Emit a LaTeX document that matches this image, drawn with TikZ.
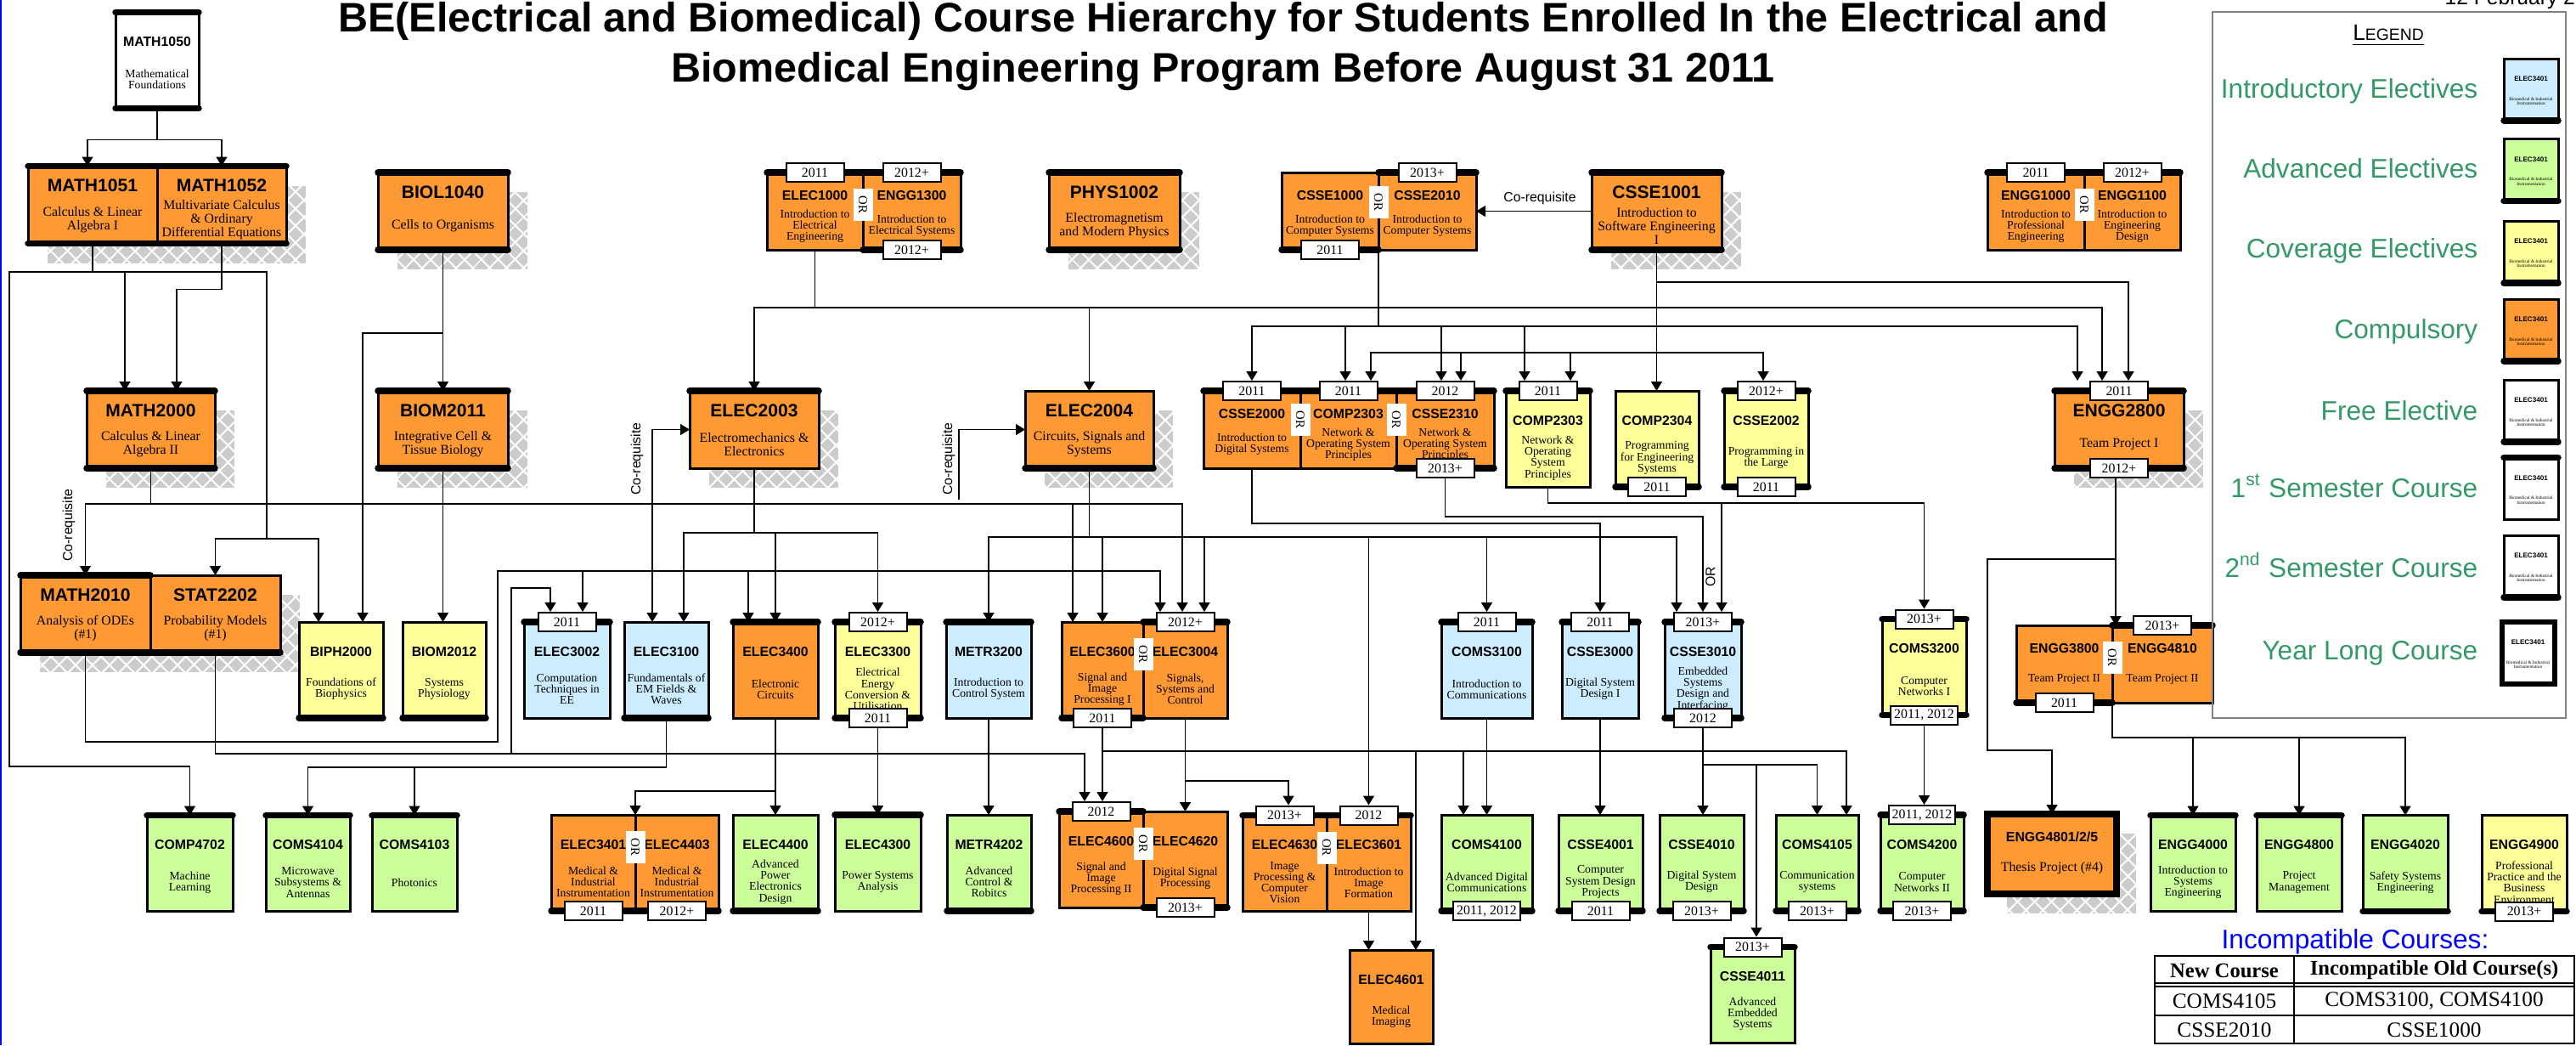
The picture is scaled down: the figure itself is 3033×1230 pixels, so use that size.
\documentclass[tikz,border=0pt]{standalone}
\usepackage{fontspec}
\setmainfont{Liberation Serif}
\setsansfont{Liberation Sans}
\usetikzlibrary{arrows.meta,patterns.meta}

\definecolor{corange}{RGB}{255,153,51}
\definecolor{cblue}{RGB}{204,236,255}
\definecolor{cgreen}{RGB}{204,255,153}
\definecolor{cyellow}{RGB}{255,255,153}
\definecolor{cshadow}{RGB}{204,204,204}
\definecolor{lgreen}{RGB}{51,153,102}

\newcommand\codef{\fontsize{4.5}{5}\selectfont\sffamily\bfseries}
\newcommand\bigcodef{\fontsize{6}{7}\selectfont\sffamily\bfseries}
\newcommand\descf{\fontsize{3.9}{3.75}\selectfont}
\newcommand\bigdescf{\fontsize{4.5}{4.6}\selectfont}
\newcommand\tagf{\fontsize{4.5}{5}\selectfont}
\newcommand\orf{\fontsize{4.2}{5}\selectfont}

\tikzset{
  course/.style={draw, line width=0.3mm, inner sep=0pt, outer sep=0pt},
  crossshadow/.style={
    preaction={fill=cshadow, transform canvas={shift={(2.3mm,-2.3mm)}}},
    preaction={pattern={Lines[angle=45,distance=4pt,line width=0.6pt]}, pattern color=white, transform canvas={shift={(2.3mm,-2.3mm)}}},
    preaction={pattern={Lines[angle=-45,distance=4pt,line width=0.6pt]}, pattern color=white, transform canvas={shift={(2.3mm,-2.3mm)}}}},
  shortbox/.style 2 args={minimum height=9.1mm,
    label={[anchor=center, yshift=-2.7mm, font=\codef]north:#1},
    label={[anchor=center, yshift=-6.3mm, align=center, font=\descf]north:{#2}}},
  bigbox/.style 2 args={minimum height=9.1mm, crossshadow,
    label={[anchor=center, yshift=-2.3mm, font=\bigcodef]north:#1},
    label={[anchor=center, yshift=-6.3mm, align=center, font=\bigdescf]north:{#2}}},
  tallbox/.style 2 args={minimum height=11.3mm,
    label={[anchor=center, yshift=-3.5mm, font=\codef]north:#1},
    label={[anchor=center, yshift=-7.9mm, align=center, font=\descf]north:{#2}}},
  yeartag/.style={draw, line width=0.2mm, fill=white, minimum width=6.8mm, minimum height=2.2mm, inner sep=0.4mm, font=\tagf},
  sembar/.style={line width=0.75mm, line cap=round},
  orlabel/.style={fill=white, rotate=-90, minimum width=3.8mm, minimum height=2.3mm, inner sep=0pt, font=\orf},
  coreq/.style={font=\fontsize{4.5}{5}\selectfont\sffamily, inner sep=0pt},
  lgdtext/.style={anchor=east, inner sep=0pt, text=lgreen, font=\fontsize{9}{10}\selectfont\sffamily},
  sample/.style={course, minimum width=6.4mm, minimum height=7.3mm,
    label={[anchor=center, yshift=-2.4mm, font=\fontsize{2.3}{2.5}\selectfont\sffamily\bfseries]north:ELEC3401},
    label={[anchor=center, yshift=-5mm, align=center, font=\fontsize{1.5}{1.6}\selectfont]north:{Biomedical \& Industrial\\Instrumentation}}},
  cell/.style={inner sep=0pt, font=\fontsize{7.2}{8}\selectfont}
}

\begin{document}
\begin{tikzpicture}[x=0.1mm, y=-0.1mm, line width=0.4pt, >={Triangle[length=1.1mm,width=1.3mm]}]
\useasboundingbox (0,0) rectangle (3033,1230);
\fill[blue] (0,0) rectangle (2.5,1230);

% title
\node[anchor=north, align=center, inner sep=0pt, font=\fontsize{13.8}{16.8}\selectfont\sffamily\bfseries] (title) at (1440,2)
  {BE(Electrical and Biomedical) Course Hierarchy for Students Enrolled In the Electrical and\\Biomedical Engineering Program Before August 31 2011};
\node[anchor=base west, inner sep=0pt, font=\fontsize{7}{8}\selectfont\sffamily] (date) at (2878,5) {12 February 2011};

% first year
\node[course, fill=white, tallbox={MATH1050}{Mathematical\\Foundations}, minimum width=9.8mm] (MATH1050) at (185,71) {};
\node[course, fill=corange, bigbox={MATH1051}{Calculus \& Linear\\Algebra I}, minimum width=15.2mm] (MATH1051) at (109,241) {};
\node[course, fill=corange, bigbox={MATH1052}{Multivariate Calculus\\\& Ordinary\\Differential Equations}, minimum width=15.2mm] (MATH1052) at (261,241) {};
\node[course, fill=corange, bigbox={BIOL1040}{Cells to Organisms}, minimum width=15.3mm] (BIOL1040) at (521.5,248.5) {};
\node[course, fill=corange, shortbox={ELEC1000}{Introduction to\\Electrical\\Engineering}, minimum width=11.3mm] (ELEC1000) at (959.5,248.5) {};
\node[course, fill=corange, shortbox={ENGG1300}{Introduction to\\Electrical Systems}, minimum width=11.5mm] (ENGG1300) at (1073.5,248.5) {};
\node[course, fill=corange, bigbox={PHYS1002}{Electromagnetism\\and Modern Physics}, minimum width=15.4mm] (PHYS1002) at (1312,248.5) {};
\node[course, fill=corange, shortbox={CSSE1000}{Introduction to\\Computer Systems}, minimum width=11.4mm] (CSSE1000) at (1566,248.5) {};
\node[course, fill=corange, shortbox={CSSE2010}{Introduction to\\Computer Systems}, minimum width=11.5mm] (CSSE2010) at (1680.5,248.5) {};
\node[course, fill=corange, bigbox={CSSE1001}{Introduction to\\Software Engineering\\I}, minimum width=15.3mm] (CSSE1001) at (1950.5,248.5) {};
\node[course, fill=corange, shortbox={ENGG1000}{Introduction to\\Professional\\Engineering}, minimum width=11.4mm] (ENGG1000) at (2397,248.5) {};
\node[course, fill=corange, shortbox={ENGG1100}{Introduction to\\Engineering\\Design}, minimum width=11.3mm] (ENGG1100) at (2510.5,248.5) {};

% second year
\node[course, fill=corange, bigbox={MATH2000}{Calculus \& Linear\\Algebra II}, minimum width=15.1mm] (MATH2000) at (177.5,505.5) {};
\node[course, fill=corange, bigbox={BIOM2011}{Integrative Cell \&\\Tissue Biology}, minimum width=15.3mm] (BIOM2011) at (521.5,505.5) {};
\node[course, fill=corange, bigbox={ELEC2003}{Electromechanics \&\\Electronics}, minimum width=15.2mm] (ELEC2003) at (888,505.5) {};
\node[course, fill=corange, bigbox={ELEC2004}{Circuits, Signals and\\Systems}, minimum width=15.1mm] (ELEC2004) at (1282.5,505.5) {};
\node[course, fill=corange, shortbox={CSSE2000}{Introduction to\\Digital Systems}, minimum width=11.4mm] (CSSE2000) at (1474,505.5) {};
\node[course, fill=corange, shortbox={COMP2303}{Network \&\\Operating System\\Principles}, minimum width=11.3mm] (COMP2303) at (1587.5,505.5) {};
\node[course, fill=corange, shortbox={CSSE2310}{Network \&\\Operating System\\Principles}, minimum width=11.5mm] (CSSE2310) at (1701.5,505.5) {};
\node[course, fill=cyellow, tallbox={COMP2303}{Network \&\\Operating\\System\\Principles}, minimum width=9.9mm] (COMP2303b) at (1822.5,516.5) {};
\node[course, fill=cyellow, tallbox={COMP2304}{Programming\\for Engineering\\Systems}, minimum width=9.8mm] (COMP2304) at (1951,516.5) {};
\node[course, fill=cyellow, tallbox={CSSE2002}{Programming in\\the Large}, minimum width=9.9mm] (CSSE2002) at (2079.5,516.5) {};
\node[course, fill=corange, bigbox={ENGG2800}{Team Project I}, minimum width=15.2mm] (ENGG2800) at (2495,505.5) {};

% third year
\node[course, fill=corange, bigbox={MATH2010}{Analysis of ODEs\\(\#1)}, minimum width=15.3mm] (MATH2010) at (100.5,722.5) {};
\node[course, fill=corange, bigbox={STAT2202}{Probability Models\\(\#1)}, minimum width=15.3mm] (STAT2202) at (253.5,722.5) {};
\node[course, fill=cyellow, tallbox={BIPH2000}{Foundations of\\Biophysics}, minimum width=9.9mm] (BIPH2000) at (401.5,788.5) {};
\node[course, fill=cyellow, tallbox={BIOM2012}{Systems\\Physiology}, minimum width=9.8mm] (BIOM2012) at (523,788.5) {};
\node[course, fill=cblue, tallbox={ELEC3002}{Computation\\Techniques in\\EE}, minimum width=10.1mm] (ELEC3002) at (667.5,788.5) {};
\node[course, fill=cblue, tallbox={ELEC3100}{Fundamentals of\\EM Fields \&\\Waves}, minimum width=9.9mm] (ELEC3100) at (784.5,788.5) {};
\node[course, fill=corange, tallbox={ELEC3400}{Electronic\\Circuits}, minimum width=10mm] (ELEC3400) at (913,788.5) {};
\node[course, fill=cyellow, tallbox={ELEC3300}{Electrical\\Energy\\Conversion \&\\Utilisation}, minimum width=10.1mm] (ELEC3300) at (1033.5,788.5) {};
\node[course, fill=cblue, tallbox={METR3200}{Introduction to\\Control System}, minimum width=10mm] (METR3200) at (1164,788.5) {};
\node[course, fill=corange, tallbox={ELEC3600}{Signal and\\Image\\Processing I}, minimum width=9.6mm] (ELEC3600) at (1298,788.5) {};
\node[course, fill=corange, tallbox={ELEC3004}{Signals,\\Systems and\\Control}, minimum width=9.9mm] (ELEC3004) at (1395.5,788.5) {};
\node[course, fill=cblue, tallbox={COMS3100}{Introduction to\\Communications}, minimum width=10.7mm] (COMS3100) at (1750.5,788.5) {};
\node[course, fill=cblue, tallbox={CSSE3000}{Digital System\\Design I}, minimum width=9mm] (CSSE3000) at (1884,788.5) {};
\node[course, fill=cblue, tallbox={CSSE3010}{Embedded\\Systems\\Design and\\Interfacing}, minimum width=9mm] (CSSE3010) at (2005,788.5) {};
\node[course, fill=cyellow, tallbox={COMS3200}{Computer\\Networks I}, minimum width=9.9mm] (COMS3200) at (2265.5,785) {};
\node[course, fill=corange, shortbox={ENGG3800}{Team Project II}, minimum width=11.3mm] (ENGG3800) at (2430.5,781.5) {};
\node[course, fill=corange, shortbox={ENGG4810}{Team Project II}, minimum width=11.8mm] (ENGG4810) at (2546,781.5) {};

% fourth year
\node[course, fill=cgreen, tallbox={COMP4702}{Machine\\Learning}, minimum width=10.1mm] (COMP4702) at (223.5,1016) {};
\node[course, fill=cgreen, tallbox={COMS4104}{Microwave\\Subsystems \&\\Antennas}, minimum width=9.9mm] (COMS4104) at (362.5,1016) {};
\node[course, fill=cgreen, tallbox={COMS4103}{Photonics}, minimum width=10mm] (COMS4103) at (488,1016) {};
\node[course, fill=corange, tallbox={ELEC3401}{Medical \&\\Industrial\\Instrumentation}, minimum width=9.9mm] (ELEC3401) at (698.5,1015.5) {};
\node[course, fill=corange, tallbox={ELEC4403}{Medical \&\\Industrial\\Instrumentation}, minimum width=9.8mm] (ELEC4403) at (797,1015.5) {};
\node[course, fill=cgreen, tallbox={ELEC4400}{Advanced\\Power\\Electronics\\Design}, minimum width=10mm] (ELEC4400) at (913,1015.5) {};
\node[course, fill=cgreen, tallbox={ELEC4300}{Power Systems\\Analysis}, minimum width=10.1mm] (ELEC4300) at (1033.5,1015.5) {};
\node[course, fill=cgreen, tallbox={METR4202}{Advanced\\Control \&\\Robitcs}, minimum width=9.9mm] (METR4202) at (1164.5,1015.5) {};
\node[course, fill=corange, tallbox={ELEC4600}{Signal and\\Image\\Processing II}, minimum width=9.9mm] (ELEC4600) at (1296.5,1011.5) {};
\node[course, fill=corange, tallbox={ELEC4620}{Digital Signal\\Processing}, minimum width=9.9mm] (ELEC4620) at (1395.5,1011.5) {};
\node[course, fill=corange, tallbox={ELEC4630}{Image\\Processing \&\\Computer\\Vision}, minimum width=9.9mm] (ELEC4630) at (1512.5,1016) {};
\node[course, fill=corange, tallbox={ELEC3601}{Introduction to\\Image\\Formation}, minimum width=9.9mm] (ELEC3601) at (1611.5,1016) {};
\node[course, fill=corange, tallbox={ELEC4601}{Medical\\Imaging}, minimum width=9.8mm, minimum height=11mm] (ELEC4601) at (1638,1173) {};
\node[course, fill=cgreen, tallbox={COMS4100}{Advanced Digital\\Communications}, minimum width=10.7mm] (COMS4100) at (1750.5,1015.5) {};
\node[course, fill=cgreen, tallbox={CSSE4001}{Computer\\System Design\\Projects}, minimum width=9.9mm] (CSSE4001) at (1884.5,1015.5) {};
\node[course, fill=cgreen, tallbox={CSSE4010}{Digital System\\Design}, minimum width=9.9mm] (CSSE4010) at (2003.5,1015.5) {};
\node[course, fill=cgreen, tallbox={COMS4105}{Communication\\systems}, minimum width=9.7mm] (COMS4105) at (2139.5,1015.5) {};
\node[course, fill=cgreen, tallbox={COMS4200}{Computer\\Networks II}, minimum width=9.8mm] (COMS4200) at (2263,1015.5) {};
\node[course, fill=cgreen, tallbox={CSSE4011}{Advanced\\Embedded\\Systems}, minimum width=9.9mm] (CSSE4011) at (2063.5,1171) {};
\node[course, fill=corange, crossshadow, line width=0.75mm, minimum width=15.2mm, minimum height=9.4mm,
  label={[anchor=center, yshift=-2.7mm, font=\codef]north:ENGG4801/2/5},
  label={[anchor=center, yshift=-6.4mm, font=\bigdescf]north:Thesis Project (\#4)}] (ENGG4801) at (2416,1005) {};
\node[course, fill=cgreen, tallbox={ENGG4000}{Introduction to\\Systems\\Engineering}, minimum width=10mm] (ENGG4000) at (2582,1016) {};
\node[course, fill=cgreen, tallbox={ENGG4800}{Project\\Management}, minimum width=10mm] (ENGG4800) at (2707,1016) {};
\node[course, fill=cgreen, tallbox={ENGG4020}{Safety Systems\\Engineering}, minimum width=10mm] (ENGG4020) at (2832,1016) {};
\node[course, fill=cyellow, tallbox={ENGG4900}{Professional\\Practice and the\\Business\\Environment}, minimum width=10mm] (ENGG4900) at (2972,1016) {};

% semester bars
\draw[sembar] (MATH1050.north west) -- (MATH1050.north east);
\draw[sembar] (MATH1050.south west) -- (MATH1050.south east);
\draw[sembar] (MATH1051.north west) -- (MATH1052.north east);
\draw[sembar] (MATH1051.south west) -- (MATH1052.south east);
\draw[sembar] (BIOL1040.north west) -- (BIOL1040.north east);
\draw[sembar] (BIOL1040.south west) -- (BIOL1040.south east);
\draw[sembar] (ELEC1000.north west) -- (ENGG1300.north east);
\draw[sembar] (ENGG1300.south west) -- (ENGG1300.south east);
\draw[sembar] (PHYS1002.north west) -- (PHYS1002.north east);
\draw[sembar] (PHYS1002.south west) -- (PHYS1002.south east);
\draw[sembar] (CSSE1000.south west) -- (CSSE1000.south east);
\draw[sembar] (CSSE2010.north west) -- (CSSE2010.north east);
\draw[sembar] (CSSE1001.north west) -- (CSSE1001.north east);
\draw[sembar] (CSSE1001.south west) -- (CSSE1001.south east);
\draw[sembar] (ENGG1000.north west) -- (ENGG1100.north east);
\draw[sembar] (MATH2000.north west) -- (MATH2000.north east);
\draw[sembar] (MATH2000.south west) -- (MATH2000.south east);
\draw[sembar] (BIOM2011.north west) -- (BIOM2011.north east);
\draw[sembar] (BIOM2011.south west) -- (BIOM2011.south east);
\draw[sembar] (ELEC2003.north west) -- (ELEC2003.north east);
\draw[sembar] (ELEC2004.south west) -- (ELEC2004.south east);
\draw[sembar] (CSSE2000.north west) -- (CSSE2310.north east);
\draw[sembar] (CSSE2310.south west) -- (CSSE2310.south east);
\draw[sembar] (COMP2303b.north west) -- (COMP2303b.north east);
\draw[sembar] (COMP2304.south west) -- (COMP2304.south east);
\draw[sembar] (CSSE2002.north west) -- (CSSE2002.north east);
\draw[sembar] (CSSE2002.south west) -- (CSSE2002.south east);
\draw[sembar] (ENGG2800.north west) -- (ENGG2800.north east);
\draw[sembar] (ENGG2800.south west) -- (ENGG2800.south east);
\draw[sembar] (MATH2010.north west) -- (MATH2010.north east);
\draw[sembar] (MATH2010.south west) -- (STAT2202.south east);
\draw[sembar] (BIPH2000.south west) -- (BIPH2000.south east);
\draw[sembar] (BIOM2012.south west) -- (BIOM2012.south east);
\draw[sembar] (ELEC3002.north west) -- (ELEC3002.north east);
\draw[sembar] (ELEC3100.south west) -- (ELEC3100.south east);
\draw[sembar] (ELEC3400.north west) -- (ELEC3400.north east);
\draw[sembar] (ELEC3300.north west) -- (ELEC3300.north east);
\draw[sembar] (ELEC3300.south west) -- (ELEC3300.south east);
\draw[sembar] (METR3200.north west) -- (METR3200.north east);
\draw[sembar] (ELEC3600.south west) -- (ELEC3600.south east);
\draw[sembar] (ELEC3004.north west) -- (ELEC3004.north east);
\draw[sembar] (COMS3100.north west) -- (COMS3100.north east);
\draw[sembar] (CSSE3000.north west) -- (CSSE3000.north east);
\draw[sembar] (CSSE3010.north west) -- (CSSE3010.north east);
\draw[sembar] (CSSE3010.south west) -- (CSSE3010.south east);
\draw[sembar] (COMS3200.north west) -- (COMS3200.north east);
\draw[sembar] (COMS3200.south west) -- (COMS3200.south east);
\draw[sembar] (ENGG3800.south west) -- (ENGG3800.south east);
\draw[sembar] (ENGG4810.north west) -- (ENGG4810.north east);
\draw[sembar] (COMP4702.north west) -- (COMP4702.north east);
\draw[sembar] (COMS4104.north west) -- (COMS4104.north east);
\draw[sembar] (COMS4103.north west) -- (COMS4103.north east);
\draw[sembar] (ELEC3401.south west) -- (ELEC4403.south east);
\draw[sembar] (ELEC4400.south west) -- (ELEC4400.south east);
\draw[sembar] (ELEC4300.north west) -- (ELEC4300.north east);
\draw[sembar] (METR4202.south west) -- (METR4202.south east);
\draw[sembar] (ELEC4600.north west) -- (ELEC4600.north east);
\draw[sembar] (ELEC4620.south west) -- (ELEC4620.south east);
\draw[sembar] (ELEC4630.north west) -- (ELEC3601.north east);
\draw[sembar] (COMS4100.south west) -- (COMS4100.south east);
\draw[sembar] (CSSE4001.south west) -- (CSSE4001.south east);
\draw[sembar] (CSSE4010.south west) -- (CSSE4010.south east);
\draw[sembar] (COMS4105.south west) -- (COMS4105.south east);
\draw[sembar] (COMS4200.north west) -- (COMS4200.north east);
\draw[sembar] (COMS4200.south west) -- (COMS4200.south east);
\draw[sembar] (CSSE4011.north west) -- (CSSE4011.north east);
\draw[sembar] (ENGG4000.north west) -- (ENGG4000.north east);
\draw[sembar] (ENGG4800.north west) -- (ENGG4800.north east);
\draw[sembar] (ENGG4020.south west) -- (ENGG4020.south east);
\draw[sembar] (ENGG4900.south west) -- (ENGG4900.south east);

% year tags
\node[yeartag] (ELEC1000T) at (ELEC1000.north) {2011};
\node[yeartag] (ENGG1300T) at (ENGG1300.north) {2012+};
\node[yeartag] (ENGG1300B) at (ENGG1300.south) {2012+};
\node[yeartag] (CSSE1000B) at (CSSE1000.south) {2011};
\node[yeartag] (CSSE2010T) at (CSSE2010.north) {2013+};
\node[yeartag] (ENGG1000T) at (ENGG1000.north) {2011};
\node[yeartag] (ENGG1100T) at (ENGG1100.north) {2012+};
\node[yeartag] (CSSE2000T) at (CSSE2000.north) {2011};
\node[yeartag] (COMP2303T) at (COMP2303.north) {2011};
\node[yeartag] (CSSE2310T) at (CSSE2310.north) {2012};
\node[yeartag] (CSSE2310B) at (CSSE2310.south) {2013+};
\node[yeartag] (COMP2303bT) at (COMP2303b.north) {2011};
\node[yeartag] (COMP2304B) at (COMP2304.south) {2011};
\node[yeartag] (CSSE2002T) at (CSSE2002.north) {2012+};
\node[yeartag] (CSSE2002B) at (CSSE2002.south) {2011};
\node[yeartag] (ENGG2800T) at (ENGG2800.north) {2011};
\node[yeartag] (ENGG2800B) at (ENGG2800.south) {2012+};
\node[yeartag] (ELEC3002T) at (ELEC3002.north) {2011};
\node[yeartag] (ELEC3300T) at (ELEC3300.north) {2012+};
\node[yeartag] (ELEC3300B) at (ELEC3300.south) {2011};
\node[yeartag] (ELEC3600B) at (ELEC3600.south) {2011};
\node[yeartag] (ELEC3004T) at (ELEC3004.north) {2012+};
\node[yeartag] (COMS3100T) at (COMS3100.north) {2011};
\node[yeartag] (CSSE3000T) at (CSSE3000.north) {2011};
\node[yeartag] (CSSE3010T) at (CSSE3010.north) {2013+};
\node[yeartag] (CSSE3010B) at (CSSE3010.south) {2012};
\node[yeartag] (COMS3200T) at (COMS3200.north) {2013+};
\node[yeartag] (COMS3200B) at (COMS3200.south) {2011, 2012};
\node[yeartag] (ENGG3800B) at (ENGG3800.south) {2011};
\node[yeartag] (ENGG4810T) at (ENGG4810.north) {2013+};
\node[yeartag] (ELEC3401B) at (ELEC3401.south) {2011};
\node[yeartag] (ELEC4403B) at (ELEC4403.south) {2012+};
\node[yeartag] (ELEC4600T) at (ELEC4600.north) {2012};
\node[yeartag] (ELEC4620B) at (ELEC4620.south) {2013+};
\node[yeartag] (ELEC4630T) at (ELEC4630.north) {2013+};
\node[yeartag] (ELEC3601T) at (ELEC3601.north) {2012};
\node[yeartag] (COMS4100B) at (COMS4100.south) {2011, 2012};
\node[yeartag] (CSSE4001B) at (CSSE4001.south) {2011};
\node[yeartag] (CSSE4010B) at (CSSE4010.south) {2013+};
\node[yeartag] (COMS4105B) at (COMS4105.south) {2013+};
\node[yeartag] (COMS4200T) at (COMS4200.north) {2011, 2012};
\node[yeartag] (COMS4200B) at (COMS4200.south) {2013+};
\node[yeartag] (CSSE4011T) at (CSSE4011.north) {2013+};
\node[yeartag] (ENGG4900B) at (ENGG4900.south) {2013+};

% OR labels
\node[orlabel] (or1) at ([yshift=-3.8mm]ELEC1000.north east) {OR};
\node[orlabel] (or2) at ([yshift=-3.5mm]CSSE1000.north east) {OR};
\node[orlabel] (or3) at ([yshift=-3.8mm]ENGG1000.north east) {OR};
\node[orlabel] (or4) at ([yshift=-3.4mm]CSSE2000.north east) {OR};
\node[orlabel] (or5) at ([yshift=-3.4mm]COMP2303.north east) {OR};
\node[orlabel] (or6) at ([yshift=-3.8mm]ELEC3600.north east) {OR};
\node[orlabel] (or7) at ([yshift=-3.8mm]ENGG3800.north east) {OR};
\node[orlabel] (or8) at ([yshift=-3.8mm]ELEC3401.north east) {OR};
\node[orlabel] (or9) at ([yshift=-3.8mm]ELEC4600.north east) {OR};
\node[orlabel] (or10) at ([yshift=-3.8mm]ELEC4630.north east) {OR};

% prerequisites
\draw[->] (MATH1050.south) -- ++(0,37) -| ([xshift=-0.6mm]MATH1051.north);
\draw[->] (MATH1050.south) -- ++(0,37) -| (MATH1052.north);
\draw[->] (MATH1051.south) -- ++(0,33) -| ([xshift=-3.05mm]MATH2000.north);
\draw[->] (MATH1051.south) |- (314,320) -- (314,634) -| (STAT2202.north);
\draw[->] (MATH1051.south) |- (314,320) -- (314,634) -| ([xshift=-2.65mm]BIPH2000.north);
\draw[->] (MATH1051.south) |- (11,320) -- (11,902) -| (COMP4702.north);
\draw[->] (MATH1052.south) -- ++(0,54) -| ([xshift=3.05mm]MATH2000.north);
\draw[->] (BIOL1040.south) -- (BIOL1040.south |- BIOM2011.north);
\draw[->] (BIOL1040.south) -- ++(0,98) -| ([xshift=2.55mm]BIPH2000.north);
\draw[->] (MATH2000.south) -- ++(0,42) -| (MATH2010.north);
\draw[->] (MATH2000.south) -- ++(0,42) -| ([xshift=-3.5mm]ELEC3600.north);
\draw[->] (MATH2000.south) -- ++(0,42) -| ([xshift=-0.35mm]ELEC3004T.north);
\draw[->] (BIOM2011.south) -- (BIOM2011.south |- BIOM2012.north);
\draw[->] (MATH2010.south) -- ++(0,105) -| (586,672) -| ([xshift=1.85mm]ELEC3002T.north);
\draw[->] (MATH2010.south) -- ++(0,105) -| (586,672) -| ([xshift=-3.2mm]ELEC3400.north);
\draw[->] (MATH2010.south) -- ++(0,105) -| (586,672) -| ([xshift=-2.95mm]ELEC3004T.north);
\draw[->] (STAT2202.south) -- ++(0,119) -| (602,692) -| ([xshift=-1.95mm]ELEC3002T.north);
\draw[->] (STAT2202.south) -- ++(0,119) -| ([xshift=-1.95mm]ELEC4600T.north);
\draw[->] (ELEC1000.south) -- ++(0,68) -| (ELEC2003.north);
\draw[->] (ELEC1000.south) -- ++(0,68) -| (ELEC2004.north);
\draw[->] (ELEC1000.south) -- ++(0,68) -| ([xshift=-2mm]ENGG2800T.north);
\draw[->] (ELEC2003.south) -- ++(0,76) -| ([xshift=2.05mm]ELEC3100.north);
\draw[->] (ELEC2003.south) -- ++(0,76) -| (ELEC3400.north);
\draw[->] (ELEC2003.south) -- ++(0,76) -| (ELEC3300T.north);
\draw[<->] ([xshift=-1.65mm]ELEC3100.north) |- (ELEC2003.west);
\coordinate (cq) at (1129,588);
\draw[->] (cq) |- (ELEC2004.west);
\draw[->] (ELEC2004.south) -- ++(0,81) -| (METR3200.north);
\draw[->] (ELEC2004.south) -- ++(0,81) -| (ELEC3600.north);
\draw[->] (ELEC2004.south) -- ++(0,81) -| ([xshift=2.25mm]ELEC3004T.north);
\draw[->] (ELEC2004.south) -- ++(0,81) -| (ELEC3601T.north);
\draw[->] (ELEC2004.south) -- ++(0,81) -| (COMS3100T.north);
\draw[->] (ELEC2004.south) -- ++(0,81) -| ([xshift=-3.1mm]CSSE3010T.north);
\draw[->] (CSSE1000.south east) -- ++(0,90) -| (CSSE2000T.north);
\draw[->] (CSSE1000.south east) -- ++(0,90) -| ([xshift=-0.35mm]COMP2303T.north);
\draw[->] (CSSE1000.south east) -- ++(0,90) -| ([xshift=-0.45mm]CSSE2310T.north);
\draw[->] (CSSE1000.south east) -- ++(0,90) -| ([xshift=-2.75mm]COMP2303bT.north);
\draw[->] (CSSE1000.south east) -- ++(0,90) -| ([xshift=-4.9mm]ENGG2800T.north);
\draw[->] (CSSE1001.south) -- (CSSE1001.south |- COMP2304.north);
\draw[->] (CSSE1001.south) -- ++(0,38) -| ([xshift=1.1mm]ENGG2800T.north);
\draw[->] (CSSE1001.south) -- ++(0,121) -| ([xshift=2.65mm]COMP2303T.north);
\draw[->] (CSSE1001.south) -- ++(0,121) -| ([xshift=1.85mm]CSSE2310T.north);
\draw[->] (CSSE1001.south) -- ++(0,121) -| ([xshift=2.65mm]COMP2303bT.north);
\draw[->] (CSSE1001.south) -- ++(0,121) -| ([xshift=-0.35mm]CSSE2002T.north);
\draw[->] (CSSE1001.west) -- (CSSE2010.east);
\draw[->] (CSSE2000.south) -- ++(0,65) -| (CSSE3000T.north);
\draw[->] (CSSE2310B.south) -- ++(0,45) -| (CSSE3010T.north);
\draw[->] (COMP2303b.south) -- ++(0,19) -| (COMS3200T.north);
\draw[->] (COMP2303b.south) -- ++(0,19) -| ([xshift=2.2mm]CSSE3010T.north);
\draw[->] (ELEC3100.south) -- ++(0,58) -| (COMS4104.north);
\draw[->] (ELEC3100.south) -- ++(0,58) -| (COMS4103.north);
\draw[->] (ELEC3400.south) -- (ELEC4400.north);
\draw[->] (ELEC3400.south) -- ++(0,86) -| (ELEC3401.north east);
\draw[->] (ELEC3300B.south) -- (ELEC3300B.south |- ELEC4300.north);
\draw[->] (METR3200.south) -- (METR3200.south |- METR4202.north);
\draw[->] (ELEC3600B.south) -- (ELEC3600B.south |- ELEC4600T.north);
\draw[->] (ELEC3600B.south) -- ++(0,27) -| ([xshift=2.9mm]ELEC4601.north);
\draw[->] (ELEC3600B.south) -- ++(0,27) -| ([xshift=-2.75mm]COMS4100.north);
\draw[->] (ELEC3600B.south) -- ++(0,27) -| ([xshift=3.45mm]COMS4105.north);
\draw[->] (ELEC3004.south) -- (ELEC3004.south |- ELEC4620.north);
\draw[->] (ELEC3004.south) -- ++(0,74) -| ([xshift=0.45mm]ELEC4630T.north);
\draw[->] (ELEC3601.south) -- (ELEC3601.south |- ELEC4601.north);
\draw[->] (COMS3100.south) -- (COMS3100.south |- COMS4100.north);
\draw[->] (CSSE3000.south) -- (CSSE3000.south |- CSSE4001.north);
\draw[->] (CSSE3010B.south) -- (CSSE3010B.south |- CSSE4010.north);
\draw[->] (CSSE3010B.south) -- ++(0,43) -| ([xshift=0.45mm]CSSE4011T.north);
\draw[->] (CSSE3010B.south) -- ++(0,43) -| (COMS4105.north);
\draw[->] (COMS3200B.south) -- (COMS3200B.south |- COMS4200T.north);
\draw[->] ([xshift=-0.4mm]ENGG2800B.south) -- ([xshift=-0.4mm]ENGG2800B.south |- ENGG4810.north);
\draw[->] ([xshift=-0.4mm]ENGG2800B.south) -- ++(0,95) -| (2340,883) -| (ENGG4801.north);
\draw[->] (ENGG3800.south east) -- ++(0,41) -| (ENGG4000.north);
\draw[->] (ENGG3800.south east) -- ++(0,41) -| (ENGG4800.north);
\draw[->] (ENGG3800.south east) -- ++(0,41) -| (ENGG4020.north);

% co-requisite and OR notes
\node[coreq, rotate=90] (cqa) at (81,618) {Co-requisite};
\node[coreq, rotate=90] (cqb) at (750,540) {Co-requisite};
\node[coreq, rotate=90] (cqc) at (1117,540) {Co-requisite};
\node[coreq] (cqd) at (1813,233) {Co-requisite};
\node[coreq, rotate=90] (orx) at (2014,679) {OR};

% legend
\draw[gray, line width=0.5pt] (2605,14) rectangle (3021,845);
\node[inner sep=0pt, font=\fontsize{5.5}{6}\selectfont\sffamily] (lgtitle) at (2812,42) {\underline{{\fontsize{7.5}{8}\selectfont L}EGEND}};
\node[lgdtext] (lg1) at (2918,107) {Introductory Electives};
\node[lgdtext] (lg2) at (2918,198) {Advanced Electives};
\node[lgdtext] (lg3) at (2918,295) {Coverage Electives};
\node[lgdtext] (lg4) at (2918,390) {Compulsory};
\node[lgdtext] (lg5) at (2918,483) {Free Elective};
\node[lgdtext] (lg6) at (2918,572) {1\textsuperscript{st} Semester Course};
\node[lgdtext] (lg7) at (2918,665) {2\textsuperscript{nd} Semester Course};
\node[lgdtext] (lg8) at (2918,769) {Year Long Course};
\node[sample, fill=cblue] (ls1) at (2980,105.5) {};
\node[sample, fill=cgreen] (ls2) at (2980,200) {};
\node[sample, fill=cyellow] (ls3) at (2980,296.5) {};
\node[sample, fill=corange] (ls4) at (2980,388.5) {};
\node[sample, fill=white] (ls5) at (2980,483.5) {};
\node[sample, fill=white] (ls6) at (2980,575) {};
\node[sample, fill=white] (ls7) at (2980,666.5) {};
\node[sample, fill=white, line width=0.6mm, minimum width=6.2mm] (ls8) at (2976.5,768.5) {};
\foreach \s in {ls1,ls2,ls3,ls4,ls5,ls7}
  \draw[sembar] (\s.south west) -- (\s.south east);
\draw[sembar] (ls6.north west) -- (ls6.north east);

% incompatible courses
\node[inner sep=0pt, text=blue, font=\fontsize{9}{10}\selectfont\sffamily] (inctitle) at (2773,1108) {Incompatible Courses:};
\draw[line width=0.6pt] (2537,1228) -- (2537,1125) -- (3031,1125) -- (3031,1228) -- cycle;
\draw[line width=0.6pt] (2701,1125) -- (2701,1228);
\draw[line width=0.6pt] (2537,1157) -- (3031,1157) (2537,1161) -- (3031,1161);
\draw[line width=0.6pt] (2537,1195) -- (3031,1195);
\node[cell, font=\fontsize{7}{8}\selectfont\bfseries] (h1) at (2619,1142) {New Course};
\node[cell, font=\fontsize{7}{8}\selectfont\bfseries] (h2) at (2866,1142) {Incompatible Old Course(s)};
\node[cell] (r1a) at (2619,1178) {COMS4105};
\node[cell] (r1b) at (2866,1178) {COMS3100, COMS4100};
\node[cell] (r2a) at (2619,1212) {CSSE2010};
\node[cell] (r2b) at (2866,1212) {CSSE1000};
\end{tikzpicture}
\end{document}
